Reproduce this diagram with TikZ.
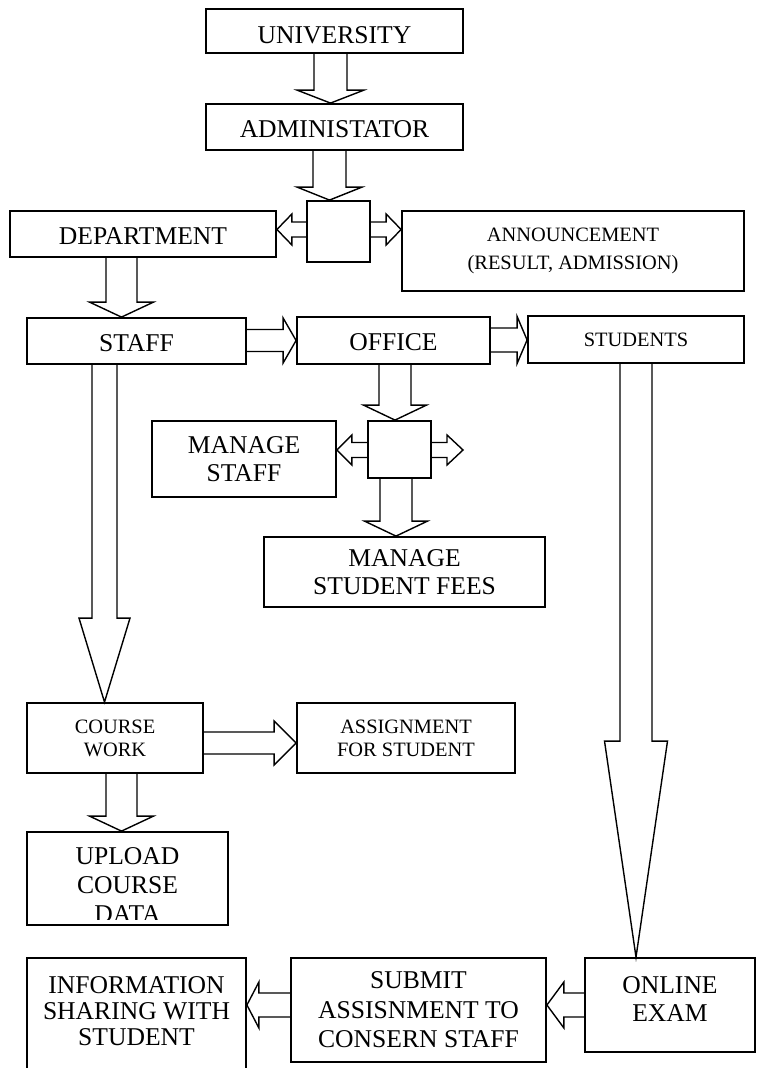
\documentclass[tikz,border=0pt]{standalone}
\usepackage{fontspec}
\setmainfont{Liberation Serif}
\usetikzlibrary{calc, positioning}
\newcommand{\bigtext}{\fontsize{12.8}{14}\selectfont}
\newcommand{\smalltext}{\fontsize{10.2}{11.5}\selectfont}
\tikzset{
	box/.style = {draw, line width=0.9pt, inner sep=0pt, align=center, font=\bigtext},
	smallbox/.style = {box, font=\smalltext},
	fat/.style n args = {3}{/utils/exec={\def\shaftw{#1}\def\headw{#2}\def\headl{#3}}},
	fat down/.style = {line width=0.7pt, line join=miter, to path={($(\tikztostart)+(-\shaftw,0)$) -- ($(\tikztotarget)+(-\shaftw,-\headl)$) -- ($(\tikztotarget)+(-\headw,-\headl)$) -- (\tikztotarget) -- ($(\tikztotarget)+(\headw,-\headl)$) -- ($(\tikztotarget)+(\shaftw,-\headl)$) -- ($(\tikztostart)+(\shaftw,0)$)}},
	fat right/.style = {line width=0.7pt, line join=miter, to path={($(\tikztostart)+(0,-\shaftw)$) -- ($(\tikztotarget)+(-\headl,-\shaftw)$) -- ($(\tikztotarget)+(-\headl,-\headw)$) -- (\tikztotarget) -- ($(\tikztotarget)+(-\headl,\headw)$) -- ($(\tikztotarget)+(-\headl,\shaftw)$) -- ($(\tikztostart)+(0,\shaftw)$)}},
	fat left/.style = {line width=0.7pt, line join=miter, to path={($(\tikztostart)+(0,-\shaftw)$) -- ($(\tikztotarget)+(\headl,-\shaftw)$) -- ($(\tikztotarget)+(\headl,-\headw)$) -- (\tikztotarget) -- ($(\tikztotarget)+(\headl,\headw)$) -- ($(\tikztotarget)+(\headl,\shaftw)$) -- ($(\tikztostart)+(0,\shaftw)$)}}
}
\begin{document}
\begin{tikzpicture}[x=0.5pt, y=-0.5pt]
		\clip (0,0) rectangle (756,1068);
		\node[box, minimum width=128.5pt, minimum height=22pt, text height=12.5pt] (uni) at (334.5,31) {UNIVERSITY};
		\node[box, minimum width=128.5pt, minimum height=23pt, text height=10.5pt] (admin) at (334.5,127) {ADMINISTATOR};
		\node[box, minimum width=31.5pt, minimum height=30.5pt] (admx) at (338.5,231.5) {};
		\node[box, minimum width=133pt, minimum height=23pt, text height=10.5pt] (dept) at (143,234) {DEPARTMENT};
		\node[smallbox, font={\fontsize{10.2}{14}\selectfont}, minimum width=171pt, minimum height=40pt] (ann) at (573,251) {ANNOUNCEMENT\\(RESULT, ADMISSION)};
		\node[box, minimum width=109.5pt, minimum height=23pt, text height=11pt] (staff) at (136.5,341) {STAFF};
		\node[box, minimum width=96.5pt, minimum height=23.5pt, text height=10.5pt] (office) at (393.5,340.5) {OFFICE};
		\node[smallbox, minimum width=108pt, minimum height=23.5pt] (students) at (636,339.5) {STUDENTS};
		\node[box, minimum width=31.5pt, minimum height=28.5pt] (offx) at (399.5,449.5) {};
		\node[box, minimum width=92pt, minimum height=38pt] (mstaff) at (244,459) {MANAGE\\STAFF};
		\node[box, minimum width=140.5pt, minimum height=35pt] (fees) at (404.5,572) {MANAGE\\STUDENT FEES};
		\node[smallbox, minimum width=88pt, minimum height=35pt] (course) at (115,738) {COURSE\\WORK};
		\node[smallbox, minimum width=109pt, minimum height=35pt] (assign) at (406,738) {ASSIGNMENT\\FOR STUDENT};
		\node[box, minimum width=100.5pt, minimum height=46.5pt] (upload) at (127.5,878.5) {};
		\begin{scope}
		\clip (upload.north west) rectangle (upload.east |- 0,919);
		\node[box, draw=none, font={\fontsize{12.8}{14.5}\selectfont}] (uploadtxt) at (127.5,885) {UPLOAD\\COURSE\\DATA};
		\end{scope}
		\node[box, font={\fontsize{12.8}{13}\selectfont}, minimum width=109.5pt, minimum height=66pt] (info) at (136.5,1024) {INFORMATION\\SHARING WITH\\STUDENT\\ \mbox{}};
		\node[box, font={\fontsize{12.8}{14.75}\selectfont}, minimum width=127.5pt, minimum height=52pt] (submit) at (418.5,1010) {SUBMIT\\ASSISNMENT TO\\CONSERN STAFF};
		\node[box, minimum width=85pt, minimum height=47pt, text depth=6pt] (online) at (670,1005) {ONLINE\\EXAM};
		\coordinate (offxend) at (463,450);
		\draw[fat={16.5}{33.5}{13}, fat down] (330.5,0 |- uni.south) to (330.5,0 |- admin.north);
		\draw[fat={16.5}{32.5}{13}, fat down] (329.5,0 |- admin.south) to (329.5,0 |- admx.north);
		\draw[fat={7.5}{15.5}{15}, fat left] (admx.west |- 0,229.5) to (dept.east |- 0,229.5);
		\draw[fat={7.5}{15.5}{15}, fat right] (admx.east |- 0,229.5) to (ann.west |- 0,229.5);
		\draw[fat={15.5}{32}{15}, fat down] (121.5,0 |- dept.south) to (121.5,0 |- staff.north);
		\draw[fat={11}{22.5}{13}, fat right] (staff.east |- 0,340.5) to (office.west |- 0,340.5);
		\draw[fat={12}{23.5}{10}, fat right] (office.east |- 0,340) to (students.west |- 0,340);
		\draw[fat={16}{31.5}{15}, fat down] (395,0 |- office.south) to (395,0 |- offx.north);
		\draw[fat={7.5}{15}{15}, fat left] (offx.west |- 0,450) to (mstaff.east |- 0,450);
		\draw[fat={7.5}{15}{16}, fat right] (offx.east |- offxend) to (offxend);
		\draw[fat={16}{31.5}{15}, fat down] (396,0 |- offx.south) to (396,0 |- fees.north);
		\draw[fat={12.5}{25.5}{84}, fat down] (104.5,0 |- staff.south) to (104.5,0 |- course.north);
		\draw[fat={11}{22}{22}, fat right] (course.east |- 0,743) to (assign.west |- 0,743);
		\draw[fat={15.5}{32}{15}, fat down] (121.5,0 |- course.south) to (121.5,0 |- upload.north);
		\draw[fat={16}{31.5}{216}, fat down] (636,0 |- students.south) to (636,0 |- online.north);
		\draw[fat={12}{23}{17}, fat left] (online.west |- 0,1005) to (submit.east |- 0,1005);
		\draw[fat={12}{23}{12}, fat left] (submit.west |- 0,1005) to (info.east |- 0,1005);
	\end{tikzpicture}
\end{document}
